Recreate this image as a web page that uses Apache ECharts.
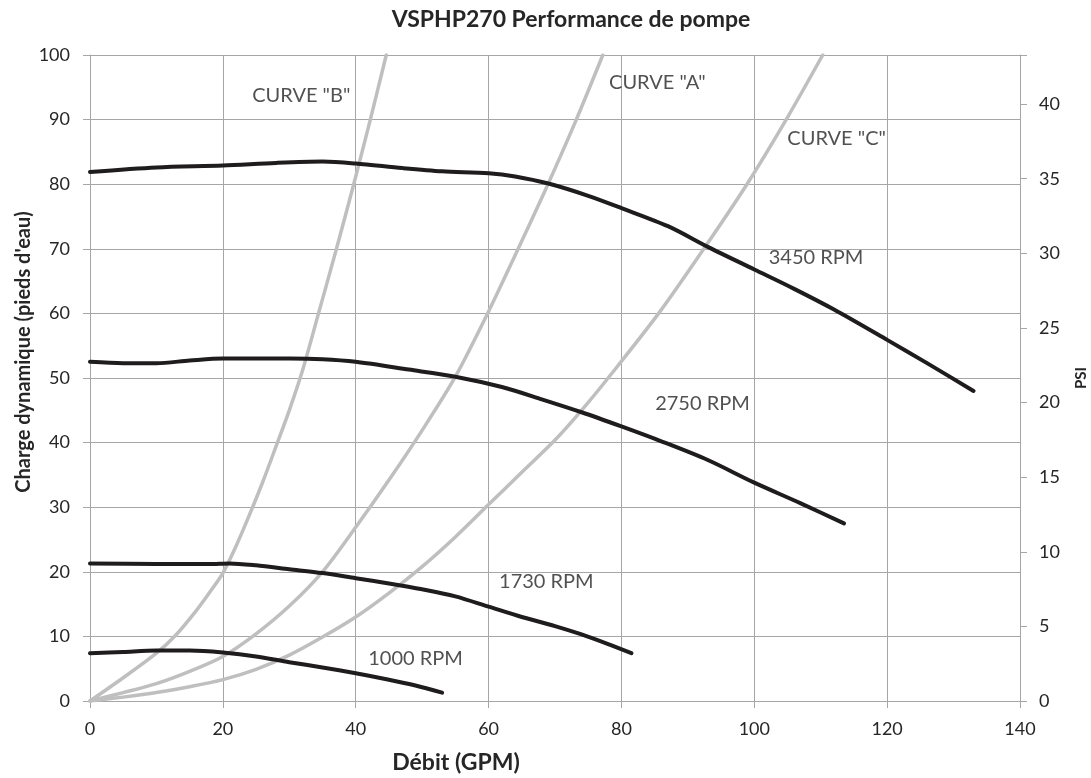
<!DOCTYPE html>
<html><head><meta charset="utf-8">
<script src="https://cdn.jsdelivr.net/npm/echarts@6/dist/echarts.min.js"></script>
<style>html,body{margin:0;padding:0;background:#fff}#c{width:1091px;height:778px}</style>
</head><body><div id="c"></div>
<script>
// Pump curves: [GPM, feet of head]
const rpm3450 = [[0,81.9],[10,82.6],[20,82.9],[28,83.3],[35,83.5],[40,83.2],[47,82.5],[53,82.0],[60,81.7],[64,81.2],[69,80.1],[75,78.2],[80,76.3],[87,73.5],[93,70.3],[100,66.8],[106,63.8],[112,60.6],[120,55.9],[126,52.3],[133,48.0]];
const rpm2750 = [[0,52.5],[5,52.3],[10,52.3],[15,52.7],[20,53.0],[30,53.0],[35,52.9],[40,52.5],[48,51.3],[55,50.2],[62,48.6],[68,46.7],[74,44.7],[80,42.5],[86,40.2],[93,37.3],[100,33.8],[107,30.6],[113.5,27.5]];
const rpm1730 = [[0,21.3],[10,21.2],[18,21.2],[21,21.3],[25,21.0],[30,20.4],[35,19.8],[40,19.0],[45,18.2],[50,17.3],[55,16.2],[60,14.6],[65,13.0],[70,11.6],[74,10.3],[78,8.8],[81.5,7.4]];
const rpm1000 = [[0,7.4],[5,7.6],[10,7.8],[15,7.8],[20,7.5],[25,6.9],[30,6.0],[35,5.2],[40,4.3],[45,3.3],[49,2.4],[53,1.3]];
// System curves
const curveB = [[0,0],[5,3.6],[10,7.4],[13,10.3],[16,14.0],[18,16.8],[20,19.8],[22,24.0],[24,28.8],[26,33.9],[28,39.4],[30,45],[32,51.2],[34.4,60],[37.1,70],[39.7,80],[42.2,90],[44.6,100]];
const curveA = [[0,0],[5,1.3],[10,2.7],[15,4.6],[20,6.9],[25,10.4],[30,14.7],[35,20.0],[40,26.9],[45,34.2],[50,41.9],[55,50.2],[60,60.3],[64,69.0],[68.5,79.0],[73,89.5],[77.2,100]];
const curveC = [[0,0],[5,0.6],[10,1.3],[15,2.2],[20,3.3],[25,4.9],[30,7.1],[35,9.9],[40,13.0],[45,16.7],[50,20.8],[55,25.4],[60,30.4],[65,35.4],[70,40.4],[74,45.0],[78,50],[85.6,60],[92.4,70],[98.9,80],[104.8,90],[110.3,100]];
// Annotation texts and anchor points [GPM, feet]
const labelTexts = ['CURVE "B"','CURVE "A"','CURVE "C"','3450 RPM','2750 RPM','1730 RPM','1000 RPM'];
const labelPoints = [[31.8,93.8],[85.4,95.7],[112.4,87.0],[109.3,68.7],[92.2,46.0],[68.7,18.5],[49.0,6.6]];
const xTicks = [0,20,40,60,80,100,120,140];
const psiPerFoot = 1/2.31;

const FONT = 'Lato, "Open Sans", sans-serif';
const TXT = '#262626';
const GRID = '#a6a6a6';
const BLACK = '#1e1c1c';
const GRAY = '#bfbfbf';

const chart = echarts.init(document.getElementById('c'), null, {renderer:'canvas'});
function line(name, data, color, width){
  return {name, type:'line', data, smooth:0.3, symbol:'none', xAxisIndex:0, yAxisIndex:0,
    lineStyle:{color, width, cap:'round', join:'round'}, z: color===BLACK?3:2, animation:false};
}
function gtext(text, x, y, size, weight, rot){
  return {type:'text', x, y, rotation: rot||0, silent:true, z:10,
    style:{text, fill:TXT, fontFamily:FONT, fontSize:size, fontWeight:weight,
      align:'center', verticalAlign:'middle', textAlign:'center', textVerticalAlign:'middle'}};
}
chart.setOption({
  animation:false,
  backgroundColor:'#fff',
  graphic:[
    gtext('VSPHP270 Performance de pompe', 571, 20, 23, 'bold'),
    gtext('Débit (GPM)', 456, 763, 23, 'bold'),
    gtext('Charge dynamique (pieds d\'eau)', 24, 352, 20, 'bold', Math.PI/2),
    gtext('PSI', 1081, 378, 15, 'bold', Math.PI/2)
  ],
  grid:{left:90, right:71, top:55, bottom:77, containLabel:false},
  xAxis:{type:'value', min:xTicks[0], max:xTicks[xTicks.length-1], interval:20,
    axisLine:{show:true, lineStyle:{color:GRID}},
    axisTick:{show:true, length:7, lineStyle:{color:GRID}},
    axisLabel:{fontFamily:FONT, fontSize:18, color:TXT, margin:19},
    splitLine:{show:true, lineStyle:{color:GRID, width:1}}},
  yAxis:[
    {type:'value', min:0, max:100, interval:10, position:'left',
      axisLine:{show:true, lineStyle:{color:GRID}},
      axisTick:{show:true, length:7, lineStyle:{color:GRID}},
      axisLabel:{fontFamily:FONT, fontSize:18, color:TXT, margin:20},
      splitLine:{show:true, lineStyle:{color:GRID, width:1}}},
    {type:'value', min:0, max:100*psiPerFoot, interval:5, position:'right',
      axisLine:{show:true, lineStyle:{color:GRID}},
      axisTick:{show:true, length:7, lineStyle:{color:GRID}},
      axisLabel:{fontFamily:FONT, fontSize:18, color:TXT, margin:19,
        formatter:v=> (Math.abs(v-Math.round(v))<1e-6 ? String(Math.round(v)) : '')},
      splitLine:{show:false}}
  ],
  series:[
    line('CURVE "B"', curveB, GRAY, 3.5),
    line('CURVE "A"', curveA, GRAY, 3.5),
    line('CURVE "C"', curveC, GRAY, 3.5),
    line('3450 RPM', rpm3450, BLACK, 4),
    line('2750 RPM', rpm2750, BLACK, 4),
    line('1730 RPM', rpm1730, BLACK, 4),
    line('1000 RPM', rpm1000, BLACK, 4),
    {type:'scatter', symbolSize:0, xAxisIndex:0, yAxisIndex:0, z:5, silent:true,
      data: labelPoints.map((p,i)=>({value:p, name:labelTexts[i]})),
      label:{show:true, position:'inside', formatter:p=>p.name,
        fontFamily:FONT, fontSize:20, color:TXT}}
  ]
});
</script></body></html>
